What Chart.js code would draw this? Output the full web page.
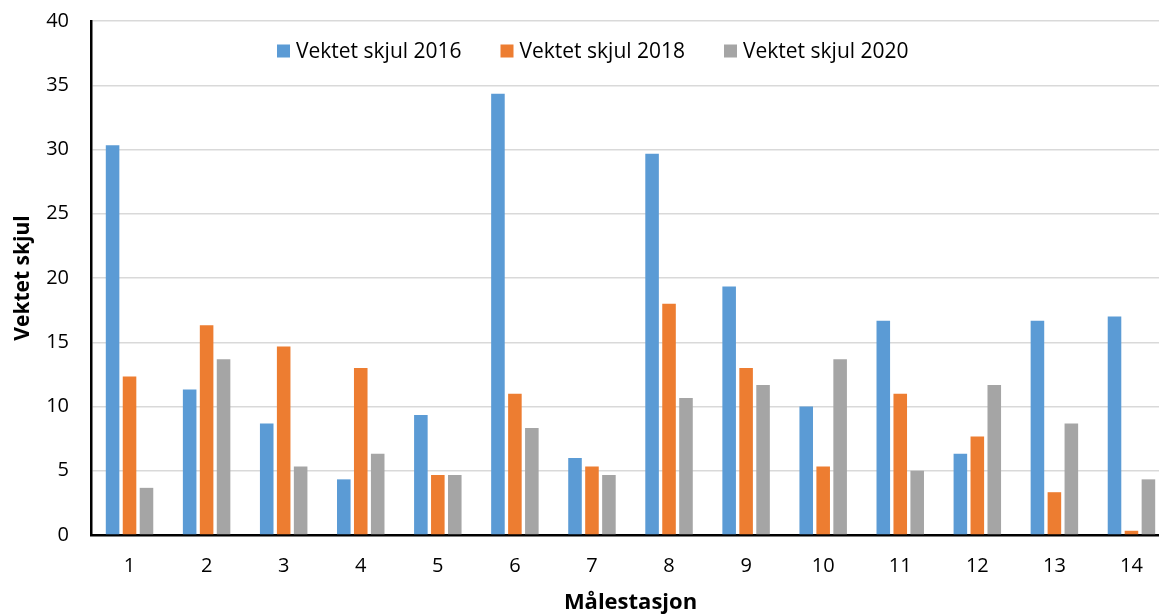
<!DOCTYPE html>
<html>
<head>
<meta charset="utf-8">
<script src="https://cdn.jsdelivr.net/npm/chart.js@4.4.0/dist/chart.umd.min.js"></script>
<style>
  html, body { margin: 0; padding: 0; background: #fff; overflow: hidden; }
  #wrap { width: 1170px; height: 616px; }
</style>
</head>
<body>
<div id="wrap"><canvas id="chart_1" width="1170" height="616"></canvas></div>
<script>
// data
const stations = ['1', '2', '3', '4', '5', '6', '7', '8', '9', '10', '11', '12', '13', '14']
const skjul2016 = [30.33, 11.33, 8.67, 4.33, 9.33, 34.33, 6, 29.67, 19.33, 10, 16.67, 6.33, 16.67, 17]
const skjul2018 = [12.33, 16.33, 14.67, 13, 4.67, 11, 5.33, 18, 13, 5.33, 11, 7.67, 3.33, 0.33]
const skjul2020 = [3.67, 13.67, 5.33, 6.33, 4.67, 8.33, 4.67, 10.67, 11.67, 13.67, 5, 11.67, 8.67, 4.33]
const yTicks = [0, 5, 10, 15, 20, 25, 30, 35, 40]

const font = '"Open Sans", "Noto Sans", sans-serif'

// legend drawn inside the plot area, like the original
const legendInside = {
  id: 'legendInside',
  afterDraw(chart) {
    const ctx = chart.ctx
    ctx.save()
    ctx.font = '21px ' + font
    ctx.textBaseline = 'middle'
    const y = 51
    chart.data.datasets.forEach((ds, i) => {
      const x = 277 + i * 223.5
      ctx.fillStyle = ds.backgroundColor
      ctx.fillRect(x, y - 6.5, 13, 13)
      ctx.fillStyle = '#000'
      ctx.fillText(ds.label, x + 19, y + 1)
    })
    ctx.restore()
  }
}

const bar = { barPercentage: 0.8, categoryPercentage: 0.66, borderWidth: 0 }

new Chart('chart_1', {
  type: 'bar',
  data: {
    labels: stations,
    datasets: [
      Object.assign({ label: 'Vektet skjul 2016', data: skjul2016, backgroundColor: '#5B9BD5' }, bar),
      Object.assign({ label: 'Vektet skjul 2018', data: skjul2018, backgroundColor: '#ED7D31' }, bar),
      Object.assign({ label: 'Vektet skjul 2020', data: skjul2020, backgroundColor: '#A5A5A5' }, bar)
    ]
  },
  options: {
    responsive: false,
    animation: false,
    devicePixelRatio: 1,
    layout: { padding: 0 },
    plugins: { legend: { display: false }, tooltip: { enabled: false } },
    scales: {
      x: {
        grid: { display: false, drawTicks: false },
        border: { display: true, color: '#000', width: 2.5 },
        ticks: { color: '#000', font: { family: font, size: 20 }, padding: 19 },
        title: {
          display: true, text: 'Målestasjon', color: '#000',
          font: { family: font, size: 22, weight: 'bold', lineHeight: 1.2 },
          padding: { top: 0, bottom: 0 }
        },
        afterFit(scale) { scale.height = 81 }
      },
      y: {
        min: 0, max: 40,
        afterBuildTicks(scale) { scale.ticks = yTicks.map(v => ({ value: v })) },
        grid: { color: '#d9d9d9', lineWidth: 1.5, drawTicks: false },
        border: { display: true, color: '#000', width: 2.5 },
        ticks: { color: '#000', font: { family: font, size: 20 }, padding: 22 },
        title: {
          display: true, text: 'Vektet skjul', color: '#000',
          font: { family: font, size: 21, weight: 'bold', lineHeight: 1.2 },
          padding: { top: 10, bottom: 0 }
        },
        afterFit(scale) {
          scale.width = 91
          scale.paddingTop = 21
          scale.paddingBottom = 0
        }
      }
    }
  },
  plugins: [legendInside]
})
</script>
</body>
</html>
